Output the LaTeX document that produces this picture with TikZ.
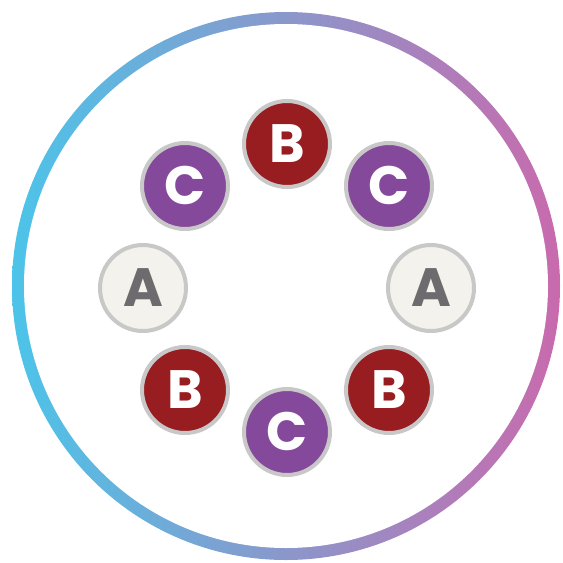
\documentclass[tikz,border=0pt]{standalone}
\usepackage{fontspec}
\setmainfont{Poppins}
\definecolor{ringl}{HTML}{4CC4E9}
\definecolor{ringm}{HTML}{9E9DCB}
\definecolor{ringr}{HTML}{C96AAD}
\definecolor{redB}{HTML}{971D20}
\definecolor{purpC}{HTML}{85499C}
\definecolor{paleA}{HTML}{F3F2EC}
\definecolor{greyA}{HTML}{6D6B6E}
\definecolor{rim}{HTML}{C9C8C9}

\begin{document}
\begin{tikzpicture}[x=1pt,y=-1pt,
  disc/.style={circle,draw=rim,line width=4pt,minimum size=86pt,inner sep=0pt,
    font=\fontsize{54}{54}\selectfont\bfseries,text height=36pt,text depth=0pt},
  bdisc/.style={disc,fill=redB,text=white},
  cdisc/.style={disc,fill=purpC,text=white},
  adisc/.style={disc,fill=paleA,text=greyA}]
  \useasboundingbox (0,0) rectangle (563,563);
  \coordinate (c) at (286,286);
  \shade[left color=ringl,middle color=ringm,right color=ringr]
    (c) circle[radius=274];
  \fill[white] (c) circle[radius=262];
  \node[bdisc] (btop)   at (287,144) {B};
  \node[cdisc] (cright) at (389,186) {C};
  \node[adisc] (aright) at (431,288) {A};
  \node[bdisc] (bright) at (389,390) {B};
  \node[cdisc] (cbot)   at (287,432) {C};
  \node[bdisc] (bleft)  at (185,390) {B};
  \node[adisc] (aleft)  at (143,288) {A};
  \node[cdisc] (cleft)  at (185,186) {C};
\end{tikzpicture}
\end{document}
